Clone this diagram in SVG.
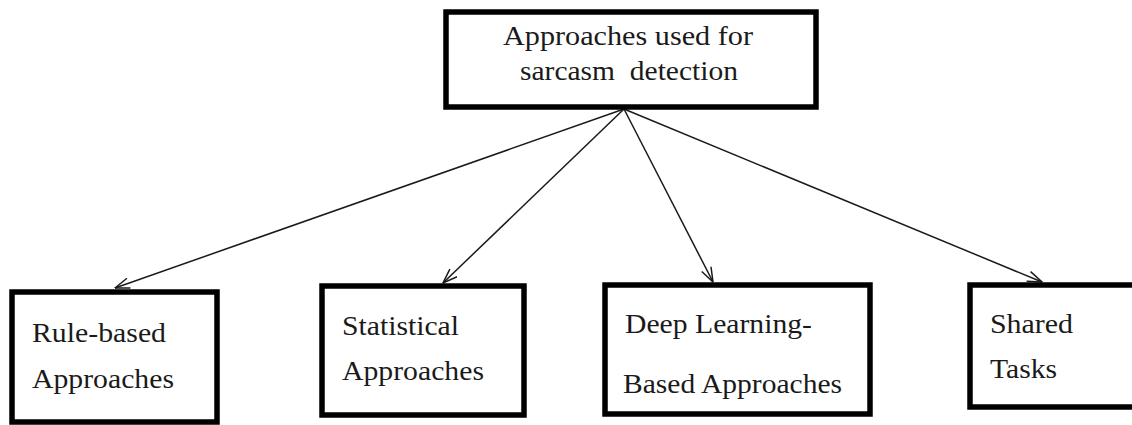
<svg xmlns="http://www.w3.org/2000/svg" width="1132" height="425" viewBox="0 0 1132 425">
  <style>
    .box { fill: #ffffff; stroke: #000000; stroke-width: 5.5; }
    .label { font-family: "Liberation Serif", "Times New Roman", "DejaVu Serif", "Noto Serif", serif; font-size: 28px; fill: #1a1a1a; }
    .edge { stroke: #1a1a1a; stroke-width: 1.5; fill: none; marker-end: url(#open-arrow); }
  </style>
  <defs>
    <marker id="open-arrow" viewBox="0 0 16 12" refX="15.5" refY="6" markerWidth="16" markerHeight="12" markerUnits="userSpaceOnUse" orient="auto">
      <path d="M1,0.8 L15.5,6 L1,11.2" fill="none" stroke="#1a1a1a" stroke-width="1.5"/>
    </marker>
  </defs>
  <rect width="1132" height="425" fill="#ffffff"/>

  <!-- connectors from the root to each category -->
  <g id="connectors">
    <line class="edge" x1="624" y1="109" x2="115" y2="288"/>
    <line class="edge" x1="624" y1="109" x2="443" y2="283"/>
    <line class="edge" x1="624" y1="109" x2="713" y2="282"/>
    <line class="edge" x1="624" y1="109" x2="1042" y2="282"/>
  </g>

  <!-- root node -->
  <g id="root">
    <rect class="box" x="446" y="12" width="370" height="95"/>
    <text class="label" font-family="Liberation Serif, DejaVu Serif, serif" x="503" y="45" textLength="250" lengthAdjust="spacingAndGlyphs">Approaches used for</text>
    <text class="label" font-family="Liberation Serif, DejaVu Serif, serif" x="520" y="80" textLength="218" lengthAdjust="spacingAndGlyphs" xml:space="preserve">sarcasm  detection</text>
  </g>

  <g id="rule-based">
    <rect class="box" x="12" y="292" width="205" height="130"/>
    <text class="label" font-family="Liberation Serif, DejaVu Serif, serif" x="32" y="342" textLength="134" lengthAdjust="spacingAndGlyphs">Rule-based</text>
    <text class="label" font-family="Liberation Serif, DejaVu Serif, serif" x="32" y="388" textLength="142" lengthAdjust="spacingAndGlyphs">Approaches</text>
  </g>

  <g id="statistical">
    <rect class="box" x="322" y="286" width="202" height="129"/>
    <text class="label" font-family="Liberation Serif, DejaVu Serif, serif" x="342" y="335" textLength="117" lengthAdjust="spacingAndGlyphs">Statistical</text>
    <text class="label" font-family="Liberation Serif, DejaVu Serif, serif" x="342" y="380" textLength="142" lengthAdjust="spacingAndGlyphs">Approaches</text>
  </g>

  <g id="deep-learning">
    <rect class="box" x="605" y="285" width="265" height="129"/>
    <text class="label" font-family="Liberation Serif, DejaVu Serif, serif" x="625" y="333" textLength="187" lengthAdjust="spacingAndGlyphs">Deep Learning-</text>
    <text class="label" font-family="Liberation Serif, DejaVu Serif, serif" x="623" y="393" textLength="219" lengthAdjust="spacingAndGlyphs">Based Approaches</text>
  </g>

  <g id="shared-tasks">
    <rect class="box" x="970" y="285" width="170" height="122"/>
    <text class="label" font-family="Liberation Serif, DejaVu Serif, serif" x="990" y="333" textLength="83" lengthAdjust="spacingAndGlyphs">Shared</text>
    <text class="label" font-family="Liberation Serif, DejaVu Serif, serif" x="990" y="378" textLength="67" lengthAdjust="spacingAndGlyphs">Tasks</text>
  </g>
</svg>
